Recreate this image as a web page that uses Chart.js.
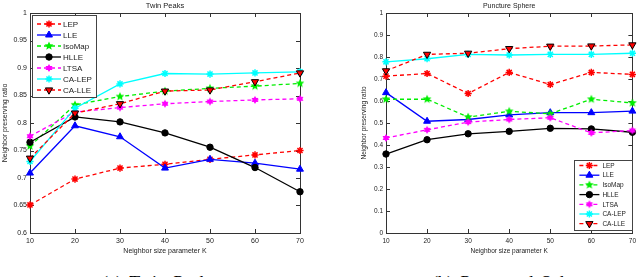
<!DOCTYPE html>
<html><head><meta charset="utf-8">
<script src="https://cdn.jsdelivr.net/npm/chart.js@4.4.0/dist/chart.umd.min.js"></script>
<style>
html,body{margin:0;padding:0;background:#fff;width:640px;height:277px;overflow:hidden;position:relative;}
canvas{position:absolute;top:0;}
#c1{left:0;}
#c2{left:320px;}
.cap{position:absolute;top:274px;font-family:"Liberation Serif","DejaVu Serif",serif;font-size:18px;line-height:1;color:#000;white-space:nowrap;word-spacing:3px;}
</style></head><body>
<canvas id="c1" width="320" height="255"></canvas>
<canvas id="c2" width="320" height="255"></canvas>
<div class="cap" style="left:102px">(a) Twin Peaks</div>
<div class="cap" style="left:432px">(b) Punctured Sphere</div>
<script>
// ---------- data ----------
const K = [10, 20, 30, 40, 50, 60, 70];
const seriesNames = ['LEP', 'LLE', 'IsoMap', 'HLLE', 'LTSA', 'CA-LEP', 'CA-LLE'];

// Twin Peaks
const tpLEP    = [0.651, 0.698, 0.718, 0.725, 0.734, 0.742, 0.750];
const tpLLE    = [0.709, 0.795, 0.775, 0.718, 0.734, 0.727, 0.716];
const tpIsoMap = [0.758, 0.833, 0.848, 0.858, 0.863, 0.867, 0.872];
const tpHLLE   = [0.765, 0.811, 0.802, 0.782, 0.756, 0.719, 0.675];
const tpLTSA   = [0.776, 0.820, 0.828, 0.835, 0.839, 0.842, 0.844];
const tpCALEP  = [0.730, 0.827, 0.871, 0.890, 0.889, 0.891, 0.893];
const tpCALLE  = [0.736, 0.818, 0.835, 0.858, 0.860, 0.875, 0.891];

// Puncture Sphere
const psLEP    = [0.713, 0.725, 0.634, 0.730, 0.675, 0.730, 0.721];
const psLLE    = [0.638, 0.508, 0.516, 0.537, 0.547, 0.547, 0.554];
const psIsoMap = [0.608, 0.608, 0.527, 0.553, 0.542, 0.608, 0.591];
const psHLLE   = [0.359, 0.424, 0.451, 0.462, 0.476, 0.473, 0.458];
const psLTSA   = [0.432, 0.469, 0.504, 0.516, 0.524, 0.455, 0.466];
const psCALEP  = [0.778, 0.792, 0.812, 0.809, 0.812, 0.812, 0.817];
const psCALLE  = [0.737, 0.812, 0.817, 0.838, 0.849, 0.850, 0.855];

const tpTicks = [0.6, 0.65, 0.7, 0.75, 0.8, 0.85, 0.9, 0.95, 1];
const psTicks = [0, 0.1, 0.2, 0.3, 0.4, 0.5, 0.6, 0.7, 0.8, 0.9, 1];

// ---------- styles ----------
function starCanvas(n, color, r, inner) {
  const s = Math.ceil(r * 2 + 2);
  const c = document.createElement('canvas');
  c.width = c.height = s;
  const g = c.getContext('2d');
  g.fillStyle = color;
  g.beginPath();
  for (let i = 0; i < 2 * n; i++) {
    const ang = -Math.PI / 2 + i * Math.PI / n;
    const rr = i % 2 ? r * inner : r;
    g.lineTo(s / 2 + rr * Math.cos(ang), s / 2 + rr * Math.sin(ang));
  }
  g.closePath();
  g.fill();
  return c;
}
const pentaGreen = starCanvas(5, '#00ee00', 4.6, 0.45);
const hexaMag = starCanvas(6, '#ff00ff', 4.0, 0.6);

const styles = [
  {color:'#ff0000', dash:[4,3], ps:'star', r:3.6, bw:1.5, bg:'#ff0000', bc:'#ff0000', rot:0},
  {color:'#0000ff', dash:[],    ps:'triangle', r:4, bw:1, bg:'#0000ff', bc:'#0000ff', rot:0},
  {color:'#00ee00', dash:[4,3], ps:pentaGreen, r:4.6, bw:1, bg:'#00ee00', bc:'#00ee00', rot:0},
  {color:'#000000', dash:[],    ps:'circle', r:3.2, bw:1, bg:'#000000', bc:'#000000', rot:0},
  {color:'#ff00ff', dash:[4,3], ps:hexaMag, r:4, bw:1, bg:'#ff00ff', bc:'#ff00ff', rot:0},
  {color:'#00ffff', dash:[],    ps:'star', r:3.6, bw:1.5, bg:'#00ffff', bc:'#00ffff', rot:0},
  {color:'#ff0000', dash:[4,3], ps:'triangle', r:4.2, bw:1, bg:'#ff0000', bc:'#000000', rot:180}
];

function makeDatasets(arrs) {
  return arrs.map((vals, i) => {
    const s = styles[i];
    return {
      label: seriesNames[i],
      data: vals,
      borderColor: s.color,
      borderWidth: 1.3,
      borderDash: s.dash,
      pointStyle: s.ps,
      pointRadius: s.r,
      pointBorderWidth: s.bw,
      pointBackgroundColor: s.bg,
      pointBorderColor: s.bc,
      pointRotation: s.rot,
      tension: 0,
      fill: false,
      order: 6 - i
    };
  });
}

// ---------- plugins ----------
const boxPlugin = {
  id: 'box',
  beforeDatasetsDraw(chart) {
    const ctx = chart.ctx, a = chart.chartArea;
    ctx.save();
    ctx.strokeStyle = '#333';
    ctx.lineWidth = 1;
    ctx.strokeRect(Math.round(a.left) + 0.5, Math.round(a.top) + 0.5,
                   Math.round(a.right - a.left), Math.round(a.bottom - a.top));
    const tl = 4;
    const xs = chart.scales.x, ys = chart.scales.y;
    ctx.beginPath();
    xs.ticks.forEach((t, i) => {
      const px = Math.round(xs.getPixelForTick(i)) + 0.5;
      ctx.moveTo(px, a.bottom); ctx.lineTo(px, a.bottom - tl);
      ctx.moveTo(px, a.top); ctx.lineTo(px, a.top + tl);
    });
    ys.ticks.forEach((t, i) => {
      const py = Math.round(ys.getPixelForValue(t.value)) + 0.5;
      ctx.moveTo(a.left, py); ctx.lineTo(a.left + tl, py);
      ctx.moveTo(a.right, py); ctx.lineTo(a.right - tl, py);
    });
    ctx.stroke();
    ctx.restore();
  }
};

function titlePlugin(text, size) {
  return {
    id: 'ttl',
    afterDraw(chart) {
      const ctx = chart.ctx, a = chart.chartArea;
      ctx.save();
      ctx.fillStyle = '#222';
      ctx.font = size + 'px "Liberation Sans", Arial, sans-serif';
      ctx.textAlign = 'center';
      ctx.textBaseline = 'middle';
      ctx.fillText(text, (a.left + a.right) / 2, 6);
      ctx.restore();
    }
  };
}

function legendPlugin(cfg) {
  return {
    id: 'lg',
    afterDatasetsDraw(chart) {
      const ctx = chart.ctx, a = chart.chartArea;
      const left = cfg.anchor === 'tl' ? a.left + cfg.dx : a.right - cfg.w - cfg.dx;
      const top = cfg.anchor === 'tl' ? a.top + cfg.dy : a.bottom - cfg.h - cfg.dy;
      ctx.save();
      ctx.fillStyle = '#fff';
      ctx.fillRect(left, top, cfg.w, cfg.h);
      ctx.strokeStyle = '#444';
      ctx.lineWidth = 1;
      ctx.strokeRect(Math.round(left) + 0.5, Math.round(top) + 0.5, cfg.w, cfg.h);
      chart.data.datasets.forEach((ds, i) => {
        const y = top + cfg.first + i * cfg.step;
        ctx.save();
        ctx.strokeStyle = ds.borderColor;
        ctx.lineWidth = 1.3;
        ctx.setLineDash(ds.borderDash || []);
        ctx.beginPath();
        ctx.moveTo(left + cfg.l0, y);
        ctx.lineTo(left + cfg.l1, y);
        ctx.stroke();
        ctx.setLineDash([]);
        ctx.fillStyle = ds.pointBackgroundColor;
        ctx.strokeStyle = ds.pointBorderColor;
        ctx.lineWidth = ds.pointBorderWidth;
        Chart.helpers.drawPoint(ctx, {
          pointStyle: ds.pointStyle, rotation: ds.pointRotation,
          radius: ds.pointRadius, borderWidth: ds.pointBorderWidth
        }, left + (cfg.l0 + cfg.l1) / 2, y);
        ctx.restore();
        ctx.fillStyle = '#222';
        ctx.font = cfg.font + 'px "Liberation Sans", Arial, sans-serif';
        ctx.textAlign = 'left';
        ctx.textBaseline = 'middle';
        ctx.fillText(ds.label, left + cfg.tx, y + 0.5);
      });
      ctx.restore();
    }
  };
}

function fmt(v) { return String(Number(Number(v).toFixed(2))); }

function makeOptions(c) {
  const f = {family: '"Liberation Sans", Arial, sans-serif', size: c.fs};
  return {
    responsive: false,
    animation: false,
    events: [],
    layout: {padding: {top: 13, right: c.padR, left: c.padL, bottom: 0}},
    plugins: {legend: {display: false}, tooltip: {enabled: false}, title: {display: false}},
    scales: {
      x: {
        type: 'category', offset: false,
        grid: {display: false, drawTicks: false}, border: {display: false},
        ticks: {autoSkip: false, maxRotation: 0, minRotation: 0, padding: 4, color: '#222', font: f},
        title: {display: true, text: 'Neighbor size parameter K', color: '#222', font: f, padding: {top: 0.8, bottom: 0}},
        afterFit(s) { s.height = 22; }
      },
      y: {
        min: c.min, max: c.max,
        grid: {display: false, drawTicks: false}, border: {display: false},
        afterBuildTicks(s) { s.ticks = c.ticks.map(v => ({value: v})); },
        ticks: {padding: 3, color: '#222', font: f, callback: fmt},
        title: {display: true, text: 'Neighbor preserving ratio', color: '#222', font: f, padding: {top: c.ytp, bottom: 0}},
        afterFit(s) { s.width = c.yW; }
      }
    }
  };
}

new Chart(document.getElementById('c1'), {
  type: 'line',
  data: {labels: K, datasets: makeDatasets([tpLEP, tpLLE, tpIsoMap, tpHLLE, tpLTSA, tpCALEP, tpCALLE])},
  options: makeOptions({fs: 7, padL: 0, padR: 20, yW: 30, min: 0.6, max: 1, ticks: tpTicks, ytp: 1}),
  plugins: [boxPlugin, titlePlugin('Twin Peaks', 7.5),
    legendPlugin({anchor: 'tl', dx: 2, dy: 2, w: 64, h: 82, first: 9, step: 11, l0: 5, l1: 29, tx: 31, font: 8})]
});

new Chart(document.getElementById('c2'), {
  type: 'line',
  data: {labels: K, datasets: makeDatasets([psLEP, psLLE, psIsoMap, psHLLE, psLTSA, psCALEP, psCALLE])},
  options: makeOptions({fs: 6.5, padL: 40, padR: 5, yW: 26, min: 0, max: 1, ticks: psTicks, ytp: 0.8}),
  plugins: [boxPlugin, titlePlugin('Puncture Sphere', 7),
    legendPlugin({anchor: 'br', dx: 0, dy: 3, w: 58, h: 70, first: 5.5, step: 9.7, l0: 5, l1: 25, tx: 28, font: 6.5})]
});
</script>
</body></html>
